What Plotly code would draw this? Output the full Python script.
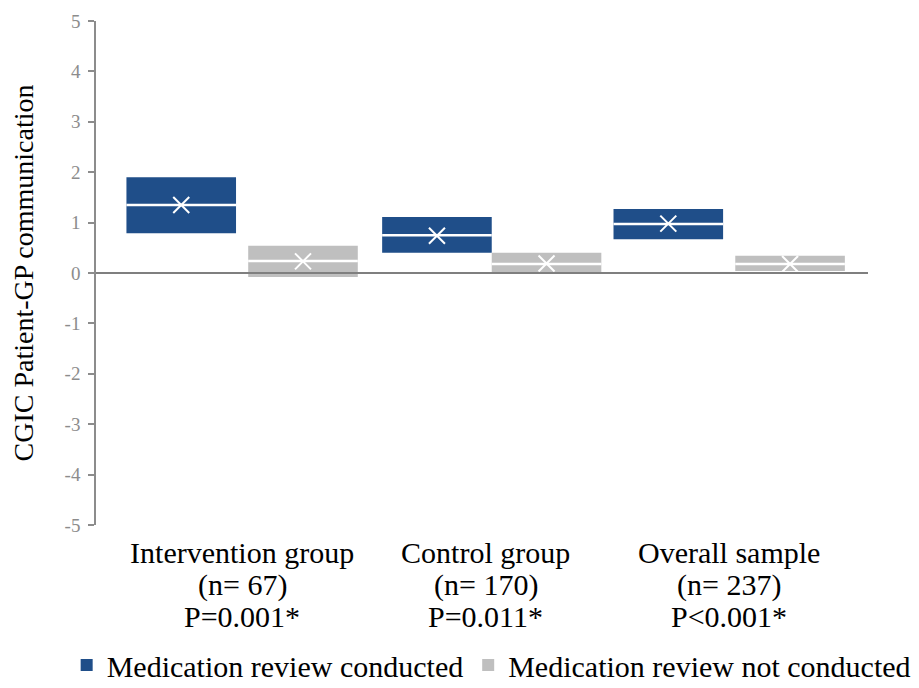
import plotly.graph_objects as go

categories = ["Intervention group", "Control group", "Overall sample"]
n_labels = ["(n= 67)", "(n= 170)", "(n= 237)"]
p_labels = ["P=0.001*", "P=0.011*", "P<0.001*"]

series_names = ["Medication review conducted", "Medication review not conducted"]
# quartiles, medians, means
q1 = [[0.79, 0.40, 0.67], [-0.08, -0.02, 0.04]]
q3 = [[1.90, 1.11, 1.27], [0.54, 0.40, 0.34]]
median = [[1.35, 0.75, 0.97], [0.24, 0.18, 0.18]]
mean = [[1.35, 0.74, 0.98], [0.23, 0.19, 0.18]]
y_ticks = [-5, -4, -3, -2, -1, 0, 1, 2, 3, 4, 5]
y_tick_text = ["-5", "-4", "-3", "-2", "-1", "0", "1", "2", "3", "4", "5"]

colors = ["#1F4E89", "#BFBFBF"]
box_width = 0.45
box_offsets = [[-0.25, -0.20, -0.25], [0.25, 0.25, 0.25]]  # layout offsets per series/group
idx = list(range(len(categories)))
serif = "Liberation Serif"
label_size = 30

fig = go.Figure()
for s in range(2):
    xs = [i + o for i, o in zip(idx, box_offsets[s])]
    fig.add_trace(go.Bar(
        x=xs, y=[b - a for a, b in zip(q1[s], q3[s])], base=q1[s],
        width=box_width, marker=dict(color=colors[s], line=dict(width=0)),
        name=series_names[s], showlegend=True))
for s in range(2):
    xs = [i + o for i, o in zip(idx, box_offsets[s])]
    lx, ly = [], []
    for x, m in zip(xs, median[s]):
        lx += [x - box_width / 2, x + box_width / 2, None]
        ly += [m, m, None]
    fig.add_trace(go.Scatter(x=lx, y=ly, mode="lines",
                             line=dict(color="white", width=2.5),
                             showlegend=False, hoverinfo="skip"))
    fig.add_trace(go.Scatter(x=xs, y=mean[s], mode="markers",
                             marker=dict(symbol="x-thin-open", size=16, color="white",
                                         line=dict(color="white", width=2)),
                             showlegend=False))

fig.add_shape(type="line", xref="paper", x0=0, x1=1, yref="y", y0=0, y1=0,
              line=dict(color="#7f7f7f", width=2), layer="above")

# second and third label lines under each category
for i, n, p in zip(idx, n_labels, p_labels):
    for k, txt in enumerate([n, p]):
        fig.add_annotation(x=i, xref="x", y=0, yref="paper", yanchor="middle",
                           text=txt, showarrow=False, borderpad=0,
                           yshift=-(60 + 31 * k),
                           font=dict(size=label_size, color="black", family=serif))

fig.update_layout(
    width=911, height=680,
    margin=dict(l=88, r=51, t=13, b=163, autoexpand=False),
    plot_bgcolor="white", paper_bgcolor="white",
    barmode="overlay",
    font=dict(family=serif, color="black"),
    xaxis=dict(range=[-0.60, 2.57], tickvals=idx, ticktext=categories,
               showgrid=False, zeroline=False, showline=False,
               ticks="outside", ticklen=1, tickcolor="rgba(0,0,0,0)",
               tickfont=dict(size=label_size, color="black", family=serif)),
    yaxis=dict(range=[-5, 5], tickvals=y_ticks, ticktext=y_tick_text,
               showgrid=False, zeroline=False,
               showline=True, linecolor="#8c8c8c", linewidth=1.5,
               ticks="outside", ticklen=6, tickcolor="#8c8c8c", tickwidth=1.5,
               ticklabelstandoff=4,
               tickfont=dict(size=19, color="#8c8c8c", family=serif),
               title=dict(text="CGIC Patient-GP communication",
                          font=dict(size=28, color="black", family=serif), standoff=24)),
    legend=dict(orientation="h", xref="paper", yref="paper",
                x=-0.038, xanchor="left", y=-0.278, yanchor="middle",
                font=dict(size=label_size, color="black", family=serif), itemwidth=30,
                tracegroupgap=0),
    showlegend=True,
)

fig.write_html("out.html")
